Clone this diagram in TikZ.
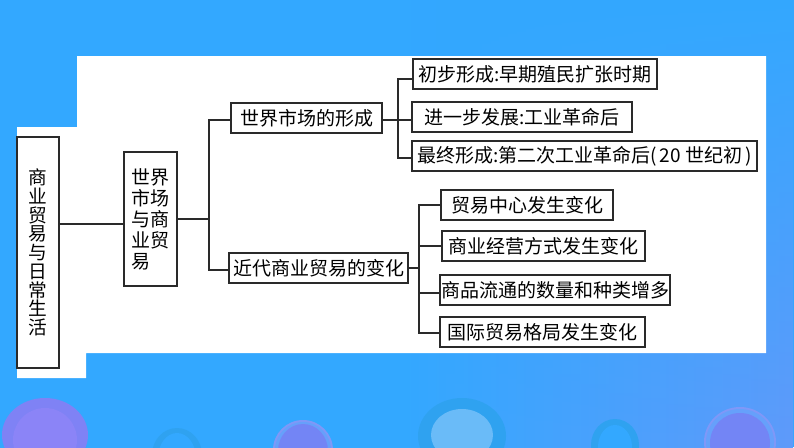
\documentclass[tikz,border=0pt]{standalone}
\usepackage{fontspec}
\usepackage{tikz}
\usetikzlibrary{fadings}
\newfontfamily\cjk{Noto Sans CJK SC}
\definecolor{skyblue}{HTML}{33A8FF}
\definecolor{edgeleft}{HTML}{6A8CF8}
\definecolor{edgeright}{HTML}{8C8CF5}
\definecolor{linegray}{HTML}{2A2A2A}
\definecolor{violetout}{HTML}{7F82F5}
\definecolor{violetin}{HTML}{8B84F7}
\definecolor{deepblue}{HTML}{2FA2F0}
\definecolor{paleblue}{HTML}{6ABBF8}
\definecolor{midviolet}{HTML}{7385F5}
\definecolor{ringviolet}{HTML}{7F98F8}
\definecolor{ringgap}{HTML}{66A0FB}
\pgfdeclarehorizontalshading{backshade}{100bp}{color(0bp)=(edgeleft); color(8bp)=(skyblue); color(50bp)=(skyblue); color(100bp)=(edgeright)}
\tikzset{
    termbox/.style={draw=linegray, line width=1.1pt, fill=white, inner sep=0pt, font=\cjk\fontsize{19}{21}\selectfont},
    branch/.style={draw=linegray, line width=1.1pt},
    rootbox/.style={termbox, align=center, font=\cjk\fontsize{18.7}{18.7}\selectfont},
}

\begin{document}
\begin{tikzpicture}[x=1pt, y=-1pt]
    \clip (0,0) rectangle (794,447);
    \fill [skyblue] (0,0) rectangle (794,447);
    \shade [shading=backshade, path fading=north] (0,0) rectangle (794,447);
    % bubbles along the bottom
    \fill [violetout] (45,435) ellipse (43 and 37);
    \fill [violetin] (45,440) ellipse (32 and 32);
    \fill [deepblue] (177,455) ellipse (25 and 27);
    \fill [skyblue] (177,458) ellipse (19 and 25);
    \fill [ringviolet] (303,450) ellipse (30 and 30);
    \fill [ringgap] (303,450) ellipse (28 and 28);
    \fill [midviolet] (303,451) ellipse (25 and 27);
    \fill [deepblue] (462,436) ellipse (44 and 38);
    \fill [paleblue] (462,435) ellipse (31 and 26);
    \fill [deepblue] (615,445) ellipse (24 and 26);
    \fill [skyblue] (615,447) ellipse (17 and 22);
    \fill [ringviolet] (740,442) ellipse (36 and 35);
    \fill [ringgap] (740,442) ellipse (34 and 33);
    \fill [midviolet] (740,443) ellipse (30 and 30);
    % white panel
    \fill [white] (77,56) -- (766,56) -- (766,353) -- (86,353) -- (86,378) -- (17,378) -- (17,127) -- (77,127) -- cycle;

    \node [rootbox, minimum width=42, minimum height=231] (life) at (38,252.5) {商\\业\\贸\\易\\与\\日\\常\\生\\活};
    \node [termbox, align=left, minimum width=53, minimum height=134] (market) at (150.5,219) {世界\\市场\\与商\\业贸\\易};
    \node [termbox, minimum width=151, minimum height=30] (form) at (306.5,118) {世界市场的形成};
    \node [termbox, minimum width=179, minimum height=30] (change) at (318.5,268) {近代商业贸易的变化};

    \node [termbox, minimum width=244, minimum height=30] (stepa) at (535,74) {初步形成:早期殖民扩张时期};
    \node [termbox, minimum width=220, minimum height=30] (stepb) at (522,117) {进一步发展:工业革命后};
    \node [termbox, minimum width=345, minimum height=30] (stepc) at (584.5,156) {最终形成:第二次工业革命后(\,20 世纪初\,)};

    \node [termbox, minimum width=172, minimum height=30] (trada) at (527,205) {贸易中心发生变化};
    \node [termbox, minimum width=203, minimum height=30] (tradb) at (543.5,246) {商业经营方式发生变化};
    \node [termbox, minimum width=230, minimum height=30] (tradc) at (555,290) {商品流通的数量和种类增多};
    \node [termbox, minimum width=205, minimum height=30] (tradd) at (542.5,332) {国际贸易格局发生变化};

    \coordinate (rootjoin) at (100,224);
    \coordinate (midjoin) at (209,219);
    \coordinate (formjoin) at (398,120);
    \coordinate (changejoin) at (419,268);

    \draw [branch] (life.east |- rootjoin) -- (market.west |- rootjoin);
    \draw [branch] (market.east) -- (midjoin);
    \draw [branch] (midjoin) |- ([yshift=-2pt]form.west);
    \draw [branch] (midjoin) |- ([yshift=-2pt]change.west);

    \draw [branch] ([yshift=-2pt]form.east) -- (formjoin);
    \draw [branch] (formjoin) |- ([yshift=-5pt]stepa.west);
    \draw [branch] (formjoin) -- (stepb.west |- formjoin);
    \draw [branch] (formjoin) |- ([yshift=-2pt]stepc.west);

    \draw [branch] (change.east) -- (changejoin);
    \draw [branch] (changejoin) |- (trada.west);
    \draw [branch] (changejoin) |- (tradb.west);
    \draw [branch] (changejoin) |- ([yshift=-3pt]tradc.west);
    \draw [branch] (changejoin) |- ([yshift=-1pt]tradd.west);
\end{tikzpicture}
\end{document}
